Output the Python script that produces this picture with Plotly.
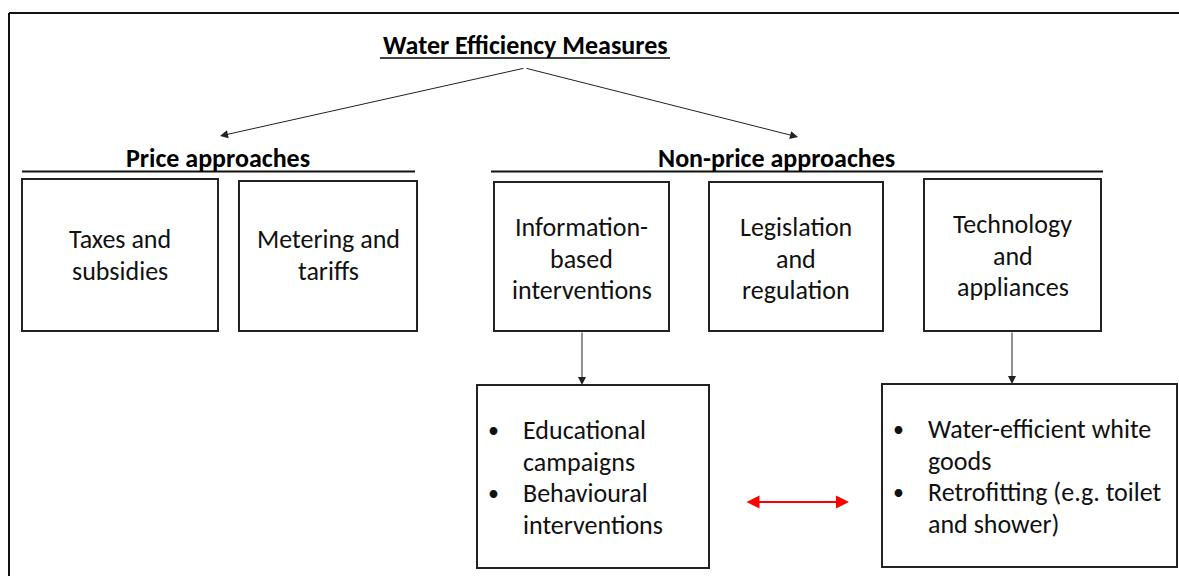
import plotly.graph_objects as go

# ---- content ----
title_text = "Water Efficiency Measures"
group_labels = ["Price approaches", "Non-price approaches"]
top_box_labels = [
    ["Taxes and", "subsidies"],
    ["Metering and", "tariffs"],
    ["Information-", "based", "interventions"],
    ["Legislation", "and", "regulation"],
    ["Technology", "and", "appliances"],
]
left_bullets = [["Educational", "campaigns"], ["Behavioural", "interventions"]]
right_bullets = [["Water-efficient white", "goods"], ["Retrofitting (e.g. toilet", "and shower)"]]

# ---- geometry (page pixel coordinates, y downward) ----
W, H = 1179, 576
FONT = "Carlito, Lato, sans-serif"
top_boxes = [(22, 179, 218, 331), (239, 181, 417, 331), (494, 182, 669, 331),
             (709, 182, 883, 331), (924, 179, 1101, 331)]
top_text_first_baseline = [247, 247, 235, 235, 232]
bottom_boxes = [(477, 385, 709, 568), (882, 384, 1177, 567)]
group_lines = [(22, 415, 171.5), (491, 1103, 171.5)]
group_text_pos = [(218, 166), (776, 166)]
LINE_STEP = 31.5
FS = 26
FSB = 26
FS_BULLET = 22

fig = go.Figure()
shapes = []
ann = []

def baseline_to_mid(b, fs):
    return b - 0.30 * fs

# outer frame (left + top only visible)
shapes.append(dict(type="line", x0=9, y0=13, x1=9, y1=H + 5, line=dict(color="#111", width=2)))
shapes.append(dict(type="line", x0=9, y0=13, x1=W + 5, y1=13, line=dict(color="#111", width=2)))

# title + underline
ann.append(dict(x=525, y=baseline_to_mid(53, FSB), text="<b>" + title_text + "</b>", showarrow=False,
                font=dict(family=FONT, size=FSB, color="black"), xanchor="center", yanchor="middle"))
shapes.append(dict(type="line", x0=380, y0=58, x1=670, y1=58, line=dict(color="black", width=1.5)))

# arrows from title
for tip in [(220, 136), (798, 137)]:
    ann.append(dict(x=tip[0], y=tip[1], ax=525, ay=68, axref="x", ayref="y", xref="x", yref="y",
                    text="", showarrow=True, arrowhead=2, arrowsize=1.6, arrowwidth=1,
                    arrowcolor="#222", standoff=0, startstandoff=0))

# group headers and lines
for (lbl, (tx, tb), (x0, x1, yl)) in zip(group_labels, group_text_pos, group_lines):
    ann.append(dict(x=tx, y=baseline_to_mid(tb, FSB), text="<b>" + lbl + "</b>", showarrow=False,
                    font=dict(family=FONT, size=FSB, color="black"), xanchor="center", yanchor="middle"))
    shapes.append(dict(type="line", x0=x0, y0=yl, x1=x1, y1=yl, line=dict(color="#111", width=2)))

# top boxes
for (x0, y0, x1, y1), lines, b0 in zip(top_boxes, top_box_labels, top_text_first_baseline):
    shapes.append(dict(type="rect", x0=x0, y0=y0, x1=x1, y1=y1, line=dict(color="#222", width=2),
                       fillcolor="rgba(0,0,0,0)"))
    cx = (x0 + x1) / 2
    for i, t in enumerate(lines):
        ann.append(dict(x=cx, y=baseline_to_mid(b0 + i * LINE_STEP, FS), text=t, showarrow=False,
                        font=dict(family=FONT, size=FS, color="#111"), xanchor="center", yanchor="middle"))

# bottom boxes
for (x0, y0, x1, y1) in bottom_boxes:
    shapes.append(dict(type="rect", x0=x0, y0=y0, x1=x1, y1=y1, line=dict(color="#222", width=2),
                       fillcolor="rgba(0,0,0,0)"))

def add_bullets(items, bx, tx, b0):
    k = 0
    for item in items:
        ann.append(dict(x=bx, y=baseline_to_mid(b0 + k * LINE_STEP, FS), text="•", showarrow=False,
                        font=dict(family=FONT, size=FS_BULLET, color="#111"), xanchor="center", yanchor="middle"))
        for t in item:
            ann.append(dict(x=tx, y=baseline_to_mid(b0 + k * LINE_STEP, FS), text=t, showarrow=False,
                            font=dict(family=FONT, size=FS, color="#111"), xanchor="left", yanchor="middle"))
            k += 1

add_bullets(left_bullets, 493, 521, 438)
add_bullets(right_bullets, 898, 926, 437)

# vertical connector arrows
for (x, y0, y1) in [(582, 331, 385), (1012, 331, 384)]:
    ann.append(dict(x=x, y=y1, ax=x, ay=y0, axref="x", ayref="y", xref="x", yref="y",
                    text="", showarrow=True, arrowhead=2, arrowsize=1.6, arrowwidth=1,
                    arrowcolor="#222", standoff=0, startstandoff=0))

# red double arrow
ann.append(dict(x=849, y=502, ax=745, ay=502, axref="x", ayref="y", xref="x", yref="y",
                text="", showarrow=True, arrowhead=2, startarrowhead=2, arrowside="end+start",
                arrowsize=1.3, startarrowsize=1.3, arrowwidth=2, arrowcolor="red",
                standoff=0, startstandoff=0))

fig.update_layout(
    width=W, height=H, margin=dict(l=0, r=0, t=0, b=0),
    paper_bgcolor="white", plot_bgcolor="white",
    xaxis=dict(range=[0, W], visible=False, fixedrange=True),
    yaxis=dict(range=[H, 0], visible=False, fixedrange=True),
    shapes=shapes, annotations=ann, showlegend=False,
)
fig.write_html("out.html", config={"displayModeBar": False},
               post_script="document.body.style.margin='0';document.body.style.overflow='hidden';")
